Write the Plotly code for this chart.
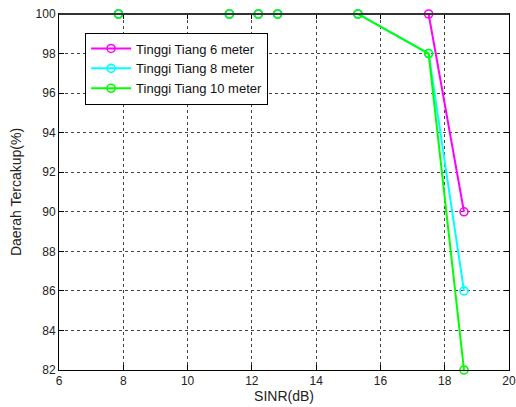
import plotly.graph_objects as go

sinr = [7.85, 11.3, 12.2, 12.8, 15.3, 17.5, 18.6]
tiang6 = [100, 100, 100, 100, 100, 100, 90]
tiang8 = [100, 100, 100, 100, 100, 98, 86]
tiang10 = [100, 100, 100, 100, 100, 98, 82]
names = ["Tinggi Tiang 6 meter", "Tinggi Tiang 8 meter", "Tinggi Tiang 10 meter"]
colors = ["#ff00ff", "#00ffff", "#00ff00"]
series = [tiang6, tiang8, tiang10]

fig = go.Figure()
for name, col, ys in zip(names, colors, series):
    fig.add_trace(go.Scatter(
        x=sinr, y=ys, name=name, mode="lines+markers",
        line=dict(color=col, width=2),
        marker=dict(symbol="circle-open", size=8, color=col, line=dict(width=1.6, color=col)),
        cliponaxis=False,
    ))

axis_common = dict(
    showline=True, linecolor="black", linewidth=1, mirror="ticks",
    ticks="inside", ticklen=5, tickcolor="black",
    showgrid=True, gridcolor="#444", griddash="dot", gridwidth=1,
    zeroline=False, automargin=False,
    tickfont=dict(family="Liberation Sans, Arial", size=12, color="#222"),
)

fig.update_layout(
    width=516, height=407,
    margin=dict(l=59, r=7, t=14, b=37),
    paper_bgcolor="white", plot_bgcolor="white",
    font=dict(family="Liberation Sans, Arial", size=12, color="#222"),
    xaxis=dict(range=[6, 20], dtick=2, title=dict(text="SINR(dB)", standoff=2), **axis_common),
    yaxis=dict(range=[82, 100], dtick=2, title=dict(text="Daerah Tercakup(%)", standoff=10), **axis_common),
    legend=dict(x=0.058, y=0.948, xanchor="left", yanchor="top",
                bgcolor="white", bordercolor="black", borderwidth=1,
                font=dict(size=13, color="#111"), tracegroupgap=0, itemwidth=40),
    showlegend=True,
    shapes=[dict(type="line", xref="paper", yref="paper", x0=0, x1=1, y0=1, y1=1,
                 line=dict(color="#333", width=2), layer="above")],
)

fig.write_html("out.html")
